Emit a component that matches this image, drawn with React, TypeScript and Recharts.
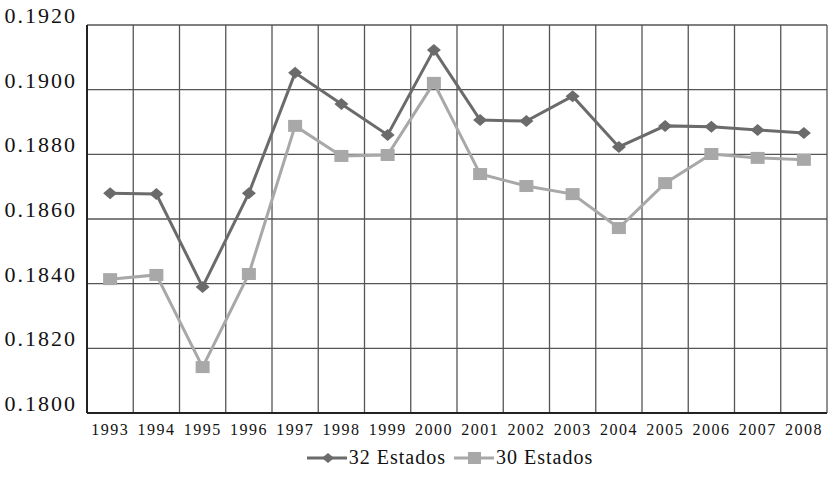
import { CartesianGrid, Legend, Line, LineChart, XAxis, YAxis } from "recharts";

const YEARS = ["1993", "1994", "1995", "1996", "1997", "1998", "1999", "2000", "2001", "2002", "2003", "2004", "2005", "2006", "2007", "2008"];
const ESTADOS_32 = [0.1868, 0.18677, 0.1839, 0.1868, 0.19052, 0.18956, 0.1886, 0.19123, 0.18906, 0.18903, 0.1898, 0.18823, 0.18888, 0.18885, 0.18875, 0.18866];
const ESTADOS_30 = [0.18414, 0.18427, 0.18142, 0.1843, 0.18888, 0.18795, 0.18798, 0.19021, 0.18739, 0.18702, 0.18677, 0.18572, 0.18711, 0.18801, 0.18789, 0.18783];
const Y_TICKS = [0.18, 0.182, 0.184, 0.186, 0.188, 0.19, 0.192];

const DARK = "#6b6b6b";
const LIGHT = "#a8a8a8";
const FONT = "'Liberation Serif', 'DejaVu Serif', serif";

const data = YEARS.map((year, i) => ({ year, e32: ESTADOS_32[i], e30: ESTADOS_30[i] }));

const Diamond = (props: any) => {
  const { cx, cy, fill } = props;
  if (cx == null || cy == null) return null;
  return <path d={`M${cx},${cy - 6}L${cx + 7},${cy}L${cx},${cy + 6}L${cx - 7},${cy}Z`} fill={fill} />;
};

const Square = (props: any) => {
  const { cx, cy, fill } = props;
  if (cx == null || cy == null) return null;
  return <rect x={cx - 7} y={cy - 6} width={14} height={12} fill={fill} />;
};

const YTick = ({ x, y, payload }: any) => (
  <text x={x - 2} y={y - 2} textAnchor="end" fontFamily={FONT} fontSize={22} letterSpacing={2} fill="#111">
    {payload.value.toFixed(4)}
  </text>
);

const XTick = ({ x, y, payload }: any) => (
  <text x={x} y={y + 14} textAnchor="middle" fontFamily={FONT} fontSize={16} letterSpacing={1.5} fill="#111">
    {payload.value}
  </text>
);

const LegendContent = () => (
  <div style={{ display: "flex", justifyContent: "center", alignItems: "center", paddingTop: 6, fontFamily: FONT, fontSize: 20, letterSpacing: 1, color: "#111" }}>
    <svg width={42} height={16}>
      <line x1={0} y1={8} x2={40} y2={8} stroke={DARK} strokeWidth={3} />
      <path d="M21,3L27,8L21,13L15,8Z" fill={DARK} />
    </svg>
    <span style={{ marginRight: 8 }}>32 Estados</span>
    <svg width={42} height={16}>
      <line x1={0} y1={8} x2={40} y2={8} stroke={LIGHT} strokeWidth={3} />
      <rect x={14} y={2} width={13} height={12} fill={LIGHT} />
    </svg>
    <span>30 Estados</span>
  </div>
);

export default function App() {
  return (
    <div style={{ position: "absolute", left: 0, top: 0, background: "#fff" }}>
      <LineChart width={834} height={494} data={data} margin={{ top: 25, right: 7, bottom: 20, left: 0 }}>
        <CartesianGrid
          stroke="#555"
          strokeWidth={1.3}
          verticalCoordinatesGenerator={({ offset }: any) =>
            Array.from({ length: YEARS.length + 1 }, (_, i) => offset.left + (i * offset.width) / YEARS.length)
          }
        />
        <XAxis dataKey="year" scale="band" height={27} tick={<XTick />} tickLine={false} axisLine={{ stroke: "#222", strokeWidth: 2 }} interval={0} />
        <YAxis domain={[0.18, 0.192]} ticks={Y_TICKS} width={87} tick={<YTick />} tickLine={false} axisLine={{ stroke: "#222", strokeWidth: 2 }} />
        <Legend verticalAlign="bottom" height={34} content={<LegendContent />} wrapperStyle={{ left: 80, width: 740 }} />
        <Line dataKey="e32" stroke={DARK} strokeWidth={3} fill={DARK} dot={<Diamond />} isAnimationActive={false} />
        <Line dataKey="e30" stroke={LIGHT} strokeWidth={3} fill={LIGHT} dot={<Square />} isAnimationActive={false} />
      </LineChart>
    </div>
  );
}
